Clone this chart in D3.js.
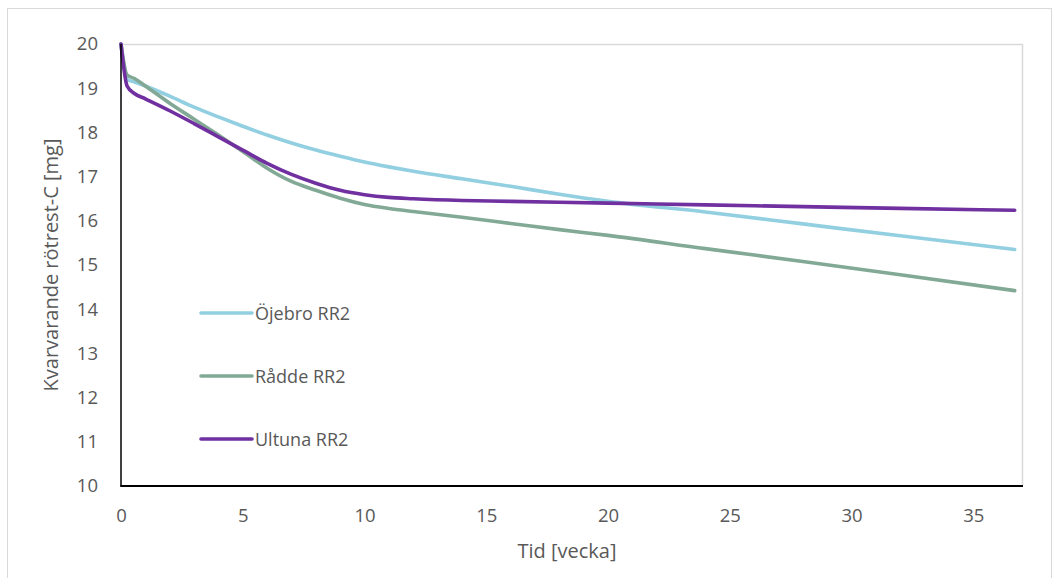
<!DOCTYPE html>
<html>
<head>
<meta charset="utf-8">
<script src="https://cdn.jsdelivr.net/npm/d3@7"></script>
<style>
  html, body { margin: 0; padding: 0; background: #fff; }
  svg { display: block; }
  text { font-family: "Open Sans", "Noto Sans", sans-serif; fill: #595959; }
</style>
</head>
<body>
<svg id="chart" width="1053" height="578"></svg>
<script>
// Remaining root-residue carbon [mg] over time [weeks], three sites
const weeks = [0, 0.25, 0.55, 1, 2, 3, 4, 5, 6, 7, 8, 9, 10, 11, 12, 14, 16, 18, 20, 24, 28, 32, 36.7];
const ojebro = [20, 19.2, 19.14, 19.05, 18.82, 18.57, 18.35, 18.14, 17.94, 17.76, 17.6, 17.46, 17.33, 17.22, 17.12, 16.95, 16.78, 16.6, 16.44, 16.2, 15.93, 15.66, 15.35];
const radde  = [20, 19.3, 19.22, 19.05, 18.66, 18.3, 17.94, 17.57, 17.19, 16.89, 16.69, 16.51, 16.37, 16.28, 16.21, 16.08, 15.94, 15.8, 15.67, 15.37, 15.08, 14.78, 14.42];
const ultuna = [20, 19.05, 18.88, 18.76, 18.49, 18.2, 17.9, 17.6, 17.3, 17.05, 16.85, 16.69, 16.59, 16.53, 16.5, 16.46, 16.44, 16.42, 16.4, 16.36, 16.32, 16.28, 16.24];

const seriesNames = ["Öjebro RR2", "Rådde RR2", "Ultuna RR2"];
const seriesValues = [ojebro, radde, ultuna];
const seriesColors = ["#92CFE1", "#82A995", "#7030A0"];

const xTicks = [0, 5, 10, 15, 20, 25, 30, 35];
const yTicks = [10, 11, 12, 13, 14, 15, 16, 17, 18, 19, 20];

const svg = d3.select("#chart");

// outer chart frame
svg.append("rect")
  .attr("x", 7.5).attr("y", 8.5)
  .attr("width", 1044).attr("height", 600)
  .attr("fill", "none").attr("stroke", "#d9d9d9").attr("stroke-width", 1);

const plot = { left: 121, right: 1022, top: 44, bottom: 486 };

const x = d3.scaleLinear().domain([0, 37]).range([plot.left, plot.right]);
const y = d3.scaleLinear().domain([10, 20]).range([plot.bottom, plot.top]);

// plot area: grey top/right edges
svg.append("path")
  .attr("d", `M${plot.left},${plot.top + 0.5}H${plot.right + 0.5}V${plot.bottom}`)
  .attr("fill", "none").attr("stroke", "#d9d9d9").attr("stroke-width", 1.5);

// axes
const xAxis = d3.axisBottom(x).tickValues(xTicks).tickSize(0).tickPadding(23);
const yAxis = d3.axisLeft(y).tickValues(yTicks).tickSize(0).tickPadding(23);

const gx = svg.append("g").attr("transform", `translate(0,${plot.bottom})`).call(xAxis);
gx.select(".domain").remove();
gx.selectAll("text").attr("font-size", 18.5).style("font-family", "'Open Sans', sans-serif").attr("fill", "#595959");

const gy = svg.append("g").attr("transform", `translate(${plot.left},0)`).call(yAxis);
gy.select(".domain").remove();
gy.selectAll("text").attr("font-size", 18.5).style("font-family", "'Open Sans', sans-serif").attr("fill", "#595959");

// series lines
const line = d3.line()
  .x((d, i) => x(weeks[i]))
  .y(d => y(d))
  .curve(d3.curveMonotoneX);

seriesValues.forEach((vals, k) => {
  svg.append("path")
    .datum(vals)
    .attr("d", line)
    .attr("fill", "none")
    .attr("stroke", seriesColors[k])
    .attr("stroke-width", 3.6)
    .attr("stroke-linejoin", "round")
    .attr("stroke-linecap", "round");
});

// axis lines drawn over the series
svg.append("line")
  .attr("x1", plot.left).attr("x2", plot.left)
  .attr("y1", plot.top).attr("y2", plot.bottom)
  .attr("stroke", "#000").attr("stroke-width", 1.5);
svg.append("line")
  .attr("x1", plot.left - 0.75).attr("x2", plot.right + 1)
  .attr("y1", plot.bottom).attr("y2", plot.bottom)
  .attr("stroke", "#000").attr("stroke-width", 2);

// axis titles
svg.append("text")
  .attr("x", 567).attr("y", 558)
  .attr("text-anchor", "middle")
  .attr("font-size", 20)
  .text("Tid [vecka]");

svg.append("text")
  .attr("transform", "translate(58,265) rotate(-90)")
  .attr("text-anchor", "middle")
  .attr("font-size", 20)
  .text("Kvarvarande rötrest-C [mg]");

// legend
const legend = svg.append("g");
seriesNames.forEach((name, k) => {
  const ly = 313 + k * 63;
  legend.append("line")
    .attr("x1", 201).attr("x2", 252)
    .attr("y1", ly).attr("y2", ly)
    .attr("stroke", seriesColors[k]).attr("stroke-width", 3.6)
    .attr("stroke-linecap", "round");
  legend.append("text")
    .attr("x", 255).attr("y", ly + 6.5)
    .attr("font-size", 18)
    .text(name);
});
</script>
</body>
</html>
